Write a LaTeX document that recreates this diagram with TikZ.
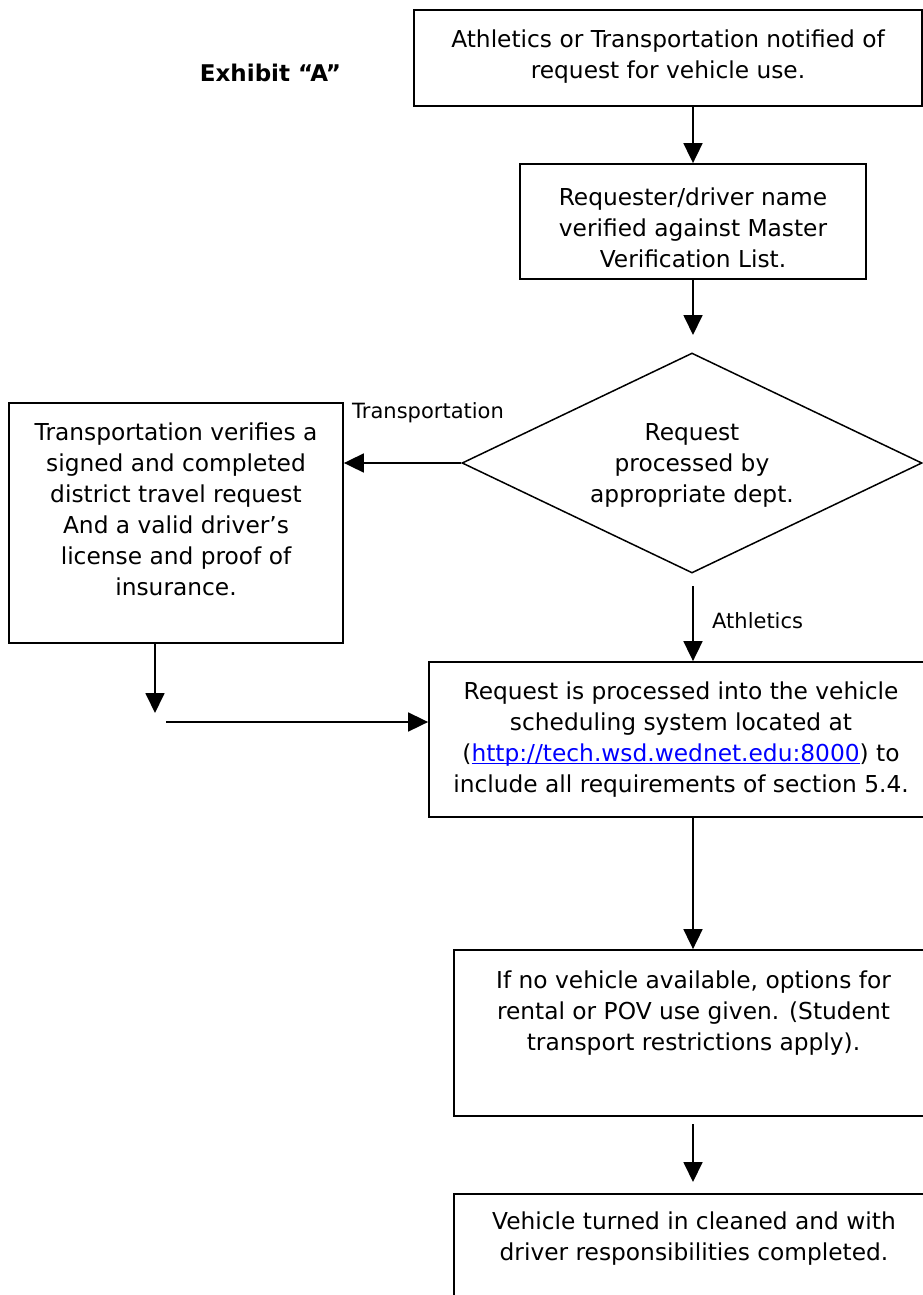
\documentclass[tikz,border=0pt]{standalone}
\usepackage{fontspec}
\setmainfont{DejaVu Sans}
\usetikzlibrary{arrows.meta,shapes.geometric}
\definecolor{linkblue}{RGB}{0,0,255}
\newcommand\myul[1]{\setbox0\hbox{#1}\rlap{\color{linkblue}\rule[-3pt]{\wd0}{1.3pt}}\box0}
\tikzset{
  box/.style={draw=black, line width=1.8pt, inner sep=0pt},
  dia/.style={draw=black, line width=1.5pt, diamond, inner sep=0pt, minimum width=460pt, minimum height=220pt},
  txt/.style={font=\fontsize{23.3}{31}\selectfont, align=center, inner sep=0pt, anchor=north},
  lbl/.style={font=\fontsize{21}{24}\selectfont, inner sep=0pt, anchor=base west},
  arr/.style={line width=1.8pt, -{Triangle[length=20pt,width=19pt]}}
}
\begin{document}
\begin{tikzpicture}[x=1pt,y=-1pt]
\useasboundingbox (0,0) rectangle (923,1295);
\clip (0,0) rectangle (923,1295);
\fill[white] (0,0) rectangle (923,1295);

% title
\node[font=\bfseries\fontsize{23}{28}\selectfont, anchor=base, inner sep=0pt] (ex) at (270.5,82) {Exhibit “A”};

% boxes
\node[box, minimum width=508pt, minimum height=96pt] (b1) at (668,58) {};
\node[txt] (t1) at (668,25.3) {\strut Athletics or Transportation notified of\\request for vehicle use.};

\node[box, minimum width=346pt, minimum height=115pt] (b2) at (693,221.5) {};
\node[txt] (t2) at (693,183.3) {\strut Requester/driver name\\verified against Master\\Verification List.};

\node[dia] (dm) at (692,463) {};
\node[txt] (t3) at (692,418.3) {\strut Request\\processed by\\appropriate dept.};

\node[box, minimum width=334pt, minimum height=240pt] (lb) at (176,523) {};
\node[txt] (t4) at (176,418.3) {\strut Transportation verifies a\\signed and completed\\district travel request\\And a valid driver’s\\license and proof of\\insurance.};

\node[box, minimum width=506pt, minimum height=155pt] (b4) at (682,739.5) {};
\node[txt] (t5) at (681,677.3) {\strut Request is processed into the vehicle\\scheduling system located at\\(\myul{\textcolor{linkblue}{http://tech.wsd.wednet.edu:8000}}) to\\include all requirements of section 5.4.};

\node[box, minimum width=481pt, minimum height=166pt] (b5) at (694.5,1033) {};
\node[txt] (t6) at (693.5,966.3) {\strut If no vehicle available, options for\\rental or POV use given. (Student\\transport restrictions apply).};

\node[box, minimum width=481pt, minimum height=126pt] (b6) at (694.5,1257) {};
\node[txt] (t7) at (694,1207.3) {\strut Vehicle turned in cleaned and with\\driver responsibilities completed.};

% labels
\node[lbl] (l1) at (352,418) {Transportation};
\node[lbl] (l2) at (712,628) {Athletics};

% coordinates
\coordinate (c2) at (693,335);
\coordinate (c3) at (693,586);
\coordinate (c4) at (155,713);
\coordinate (c5) at (166,722);
\coordinate (c6) at (693,1124);
\coordinate (c7) at (693,1182);

% connectors
\draw[arr] (b1.south -| b2.north) -- (b2.north);
\draw[arr] (b2.south) -- (c2);
\draw[arr] (dm.west) -- (lb.east |- dm.west);
\draw[arr] (c3) -- (c3 |- b4.north);
\draw[arr] (lb.south -| c4) -- (c4);
\draw[arr] (c5) -- (c5 -| b4.west);
\draw[arr] (c3 |- b4.south) -- (c3 |- b5.north);
\draw[arr] (c6) -- (c7);
\end{tikzpicture}
\end{document}
